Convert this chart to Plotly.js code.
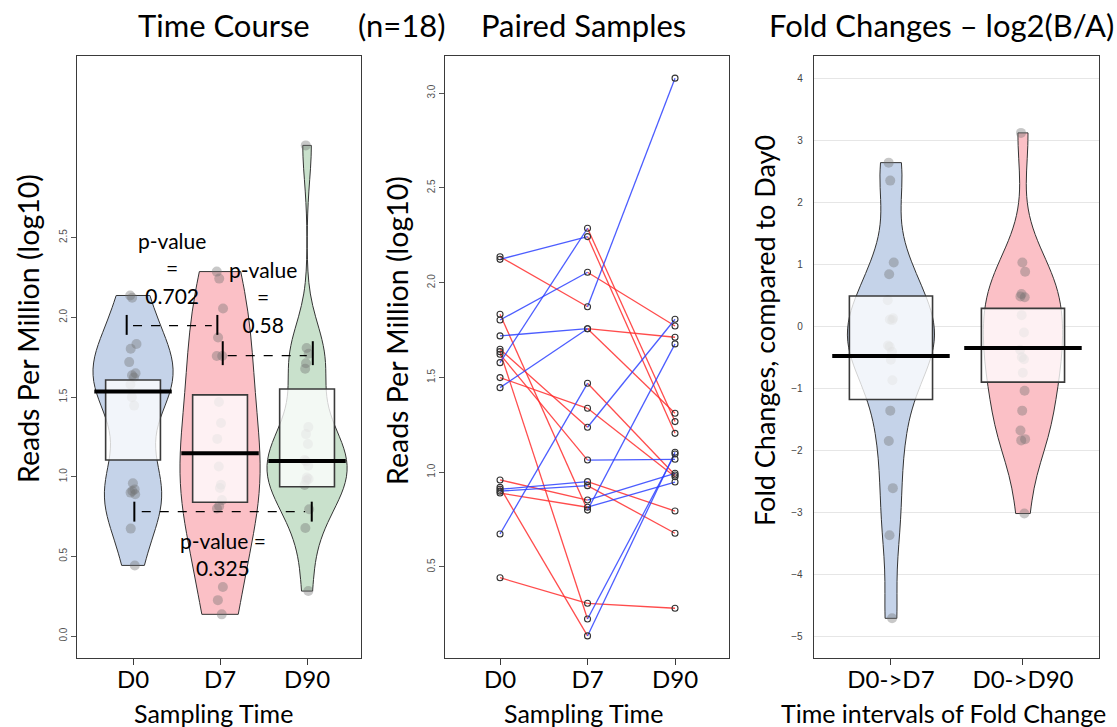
<!DOCTYPE html>
<html>
<head>
<meta charset="utf-8">
<script src="https://cdn.plot.ly/plotly-3.0.1.min.js"></script>
<style>html,body{margin:0;padding:0;background:#fff}#chart{width:1117px;height:727px}</style>
</head>
<body>
<div id="chart"></div>
<script>
// ---------- data ----------
const timepoints = ['D0', 'D7', 'D90'];
const intervals = ['D0->D7', 'D0->D90'];

// log10 reads per million, one entry per subject (n = 18), same order in each array
const rpmD0  = [2.137, 1.578, 2.123, 1.803, 1.719, 1.446, 0.674, 1.499, 1.649, 1.622, 1.636, 0.920, 0.443, 1.833, 0.959, 0.910, 0.900, 0.890];
const rpmD7  = [1.873, 2.287, 2.243, 2.055, 1.757, 1.757, 1.469, 1.337, 1.237, 1.064, 0.225, 0.136, 0.308, 0.800, 0.853, 0.950, 0.929, 0.815];
const rpmD90 = [3.079, 1.267, 1.205, 1.771, 1.311, 1.712, 0.985, 0.976, 1.807, 1.068, 1.096, 1.105, 0.282, 1.677, 0.994, 0.795, 0.678, 0.948];

// summary marks of the time-course pirate plot
const centreLine1 = [1.534, 1.147, 1.098];
const bandLow1    = [1.105, 0.839, 0.937];
const bandHigh1   = [1.607, 1.513, 1.550];

// fold changes log2(B/A)
const foldD0D7  = [2.64, 2.35, 1.03, 0.84, 0.42, 0.13, 0.11, 0.10, -0.31, -0.33, -0.41, -0.54, -0.87, -1.36, -1.85, -2.61, -3.37, -4.71];
const foldD0D90 = [3.12, 1.03, 0.88, 0.52, 0.48, 0.47, 0.18, -0.10, -0.38, -0.50, -0.53, -0.75, -1.04, -1.36, -1.68, -1.82, -1.84, -3.02];

const centreLine3 = [-0.48, -0.35];
const bandLow3    = [-1.18, -0.90];
const bandHigh3   = [0.49, 0.29];

const pLabels = ['p-value<br>=<br>0.702', 'p-value<br>=<br>0.58', 'p-value =<br>0.325'];

// ---------- styles ----------
const FONT = 'Lato, "Open Sans", sans-serif';
const beanFill1 = ['#c5d3e9', '#fbc0c6', '#c9e1cc'];
const beanFill3 = ['#c5d3e9', '#fbc0c6'];
const bw1 = [0.24, 0.40, 0.22];
const bw3 = [0.60, 0.62];
const beanWidth3 = [0.66, 0.60];
const upColor = 'rgba(45,65,255,0.85)';
const downColor = 'rgba(255,45,45,0.85)';
const pointMarker = {color: 'rgba(110,110,110,0.38)', size: 10, line: {width: 0}};

const traces = [];
const groups1 = [rpmD0, rpmD7, rpmD90];
groups1.forEach((vals, i) => {
  traces.push({
    type: 'violin', xaxis: 'x', yaxis: 'y',
    x: vals.map(() => timepoints[i]), y: vals,
    fillcolor: beanFill1[i], line: {color: '#333', width: 1},
    points: 'all', pointpos: 0, jitter: 0.1, marker: pointMarker,
    spanmode: 'hard', bandwidth: bw1[i], width: 0.92, scalemode: 'width',
    box: {visible: false}, meanline: {visible: false}, hoverinfo: 'y', showlegend: false
  });
});

// paired lines
const series = [rpmD0, rpmD7, rpmD90];
const up = {x: [], y: []}, down = {x: [], y: []};
for (let s = 0; s < rpmD0.length; s++) {
  for (let k = 0; k < 2; k++) {
    const a = series[k][s], b = series[k + 1][s];
    const t = b >= a ? up : down;
    t.x.push(timepoints[k], timepoints[k + 1], null);
    t.y.push(a, b, null);
  }
}
traces.push({type: 'scatter', mode: 'lines', xaxis: 'x2', yaxis: 'y2', x: down.x, y: down.y,
  line: {color: downColor, width: 1.3}, hoverinfo: 'skip', showlegend: false});
traces.push({type: 'scatter', mode: 'lines', xaxis: 'x2', yaxis: 'y2', x: up.x, y: up.y,
  line: {color: upColor, width: 1.3}, hoverinfo: 'skip', showlegend: false});
const px = [], py = [];
series.forEach((vals, k) => vals.forEach(v => { px.push(timepoints[k]); py.push(v); }));
traces.push({type: 'scatter', mode: 'markers', xaxis: 'x2', yaxis: 'y2', x: px, y: py,
  marker: {symbol: 'circle-open', size: 6, color: '#333', line: {width: 1.1}}, showlegend: false});

const groups3 = [foldD0D7, foldD0D90];
groups3.forEach((vals, i) => {
  traces.push({
    type: 'violin', xaxis: 'x3', yaxis: 'y3',
    x: vals.map(() => intervals[i]), y: vals,
    fillcolor: beanFill3[i], line: {color: '#333', width: 1},
    points: 'all', pointpos: 0, jitter: 0.1, marker: pointMarker,
    spanmode: 'hard', bandwidth: bw3[i], width: beanWidth3[i], scalemode: 'width',
    box: {visible: false}, meanline: {visible: false}, hoverinfo: 'y', showlegend: false
  });
});

// ---------- shapes ----------
const shapes = [];
function addBands(xref, yref, lows, highs, centres) {
  lows.forEach((lo, i) => {
    shapes.push({type: 'rect', xref, yref, layer: 'above', x0: i - 0.315, x1: i + 0.315, y0: lo, y1: highs[i],
      fillcolor: 'rgba(255,255,255,0.78)', line: {color: '#3a3a3a', width: 1.6}});
    shapes.push({type: 'line', xref, yref, layer: 'above', x0: i - 0.445, x1: i + 0.445, y0: centres[i], y1: centres[i],
      line: {color: '#000', width: 4}});
  });
}
addBands('x', 'y', bandLow1, bandHigh1, centreLine1);
addBands('x3', 'y3', bandLow3, bandHigh3, centreLine3);

// comparison brackets (annotation graphics)
function bracket(xl, xa, xb, xr, yMid, yLo, yHi) {
  shapes.push({type: 'line', xref: 'x', yref: 'y', layer: 'above', x0: xa, x1: xb, y0: yMid, y1: yMid,
    line: {color: '#000', width: 1.2, dash: 'dash'}});
  shapes.push({type: 'line', xref: 'x', yref: 'y', layer: 'above', x0: xl, x1: xl, y0: yLo, y1: yHi,
    line: {color: '#000', width: 2}});
  shapes.push({type: 'line', xref: 'x', yref: 'y', layer: 'above', x0: xr, x1: xr, y0: yLo, y1: yHi,
    line: {color: '#000', width: 2}});
}
bracket(-0.073, 0.0, 0.905, 0.969, 1.948, 1.89, 2.015);
bracket(1.031, 1.088, 1.997, 2.066, 1.760, 1.70, 1.85);
bracket(0.015, 0.10, 1.977, 2.054, 0.780, 0.718, 0.843);

// ---------- annotations ----------
const W = 1117, H = 727;
const annotations = [
  {text: 'Time Course', x: 224 / W, y: 1 - 25 / H},
  {text: '(n=18)', x: 402 / W, y: 1 - 25 / H},
  {text: 'Paired Samples', x: 583 / W, y: 1 - 25 / H},
  {text: 'Fold Changes \u2013 log2(B/A)', x: 941 / W, y: 1 - 25 / H}
].map(a => Object.assign({xref: 'paper', yref: 'paper', xanchor: 'center', yanchor: 'middle', showarrow: false,
  font: {family: FONT, size: 31, color: '#000'}}, a));
// axis titles
[
  {text: 'Reads Per Million (log10)', x: 28 / W, y: 1 - 329 / H, size: 28.5, angle: -90},
  {text: 'Reads Per Million (log10)', x: 397 / W, y: 1 - 331 / H, size: 28.5, angle: -90},
  {text: 'Fold Changes, compared to Day0', x: 764 / W, y: 1 - 331 / H, size: 27, angle: -90},
  {text: 'Sampling Time', x: 213 / W, y: 1 - 713 / H, size: 25, angle: 0},
  {text: 'Sampling Time', x: 583 / W, y: 1 - 713 / H, size: 25, angle: 0},
  {text: 'Time intervals of Fold Change', x: 943 / W, y: 1 - 713 / H, size: 25, angle: 0}
].forEach(a => annotations.push({xref: 'paper', yref: 'paper', x: a.x, y: a.y, text: a.text, textangle: a.angle,
  showarrow: false, xanchor: 'center', yanchor: 'middle', font: {family: FONT, size: a.size, color: '#000'}}));
const pPos = [[0.448, 2.31], [1.494, 2.128], [1.034, 0.515]];
pLabels.forEach((t, i) => annotations.push({xref: 'x', yref: 'y', x: pPos[i][0], y: pPos[i][1], text: t,
  showarrow: false, xanchor: 'center', yanchor: 'middle', font: {family: FONT, size: 21, color: '#000'}}));

// ---------- axes ----------
const yDom = [(H - 658) / H, (H - 56) / H];
const frame = {showline: true, mirror: true, linecolor: '#3a3a3a', linewidth: 1.3, zeroline: false, showgrid: false, fixedrange: true};
const xCommon = Object.assign({}, frame, {type: 'category', ticks: 'outside', ticklen: 6, tickcolor: '#3a3a3a',
  ticklabelstandoff: -6, tickfont: {family: FONT, size: 24, color: '#000'}});
const yCommon = Object.assign({}, frame, {ticks: 'outside', ticklen: 5, tickcolor: '#555', tickangle: -90,
  tickfont: {family: 'Liberation Sans, Arial, sans-serif', size: 10, color: '#555'}});

const layout = {
  width: W, height: H, margin: {l: 0, r: 0, t: 0, b: 0}, paper_bgcolor: '#fff', plot_bgcolor: '#fff',
  showlegend: false, violinmode: 'overlay', violingap: 0, hovermode: false,
  font: {family: FONT},
  xaxis: Object.assign({}, xCommon, {domain: [77 / W, 361 / W], anchor: 'y', range: [-0.644, 2.62],
    categoryorder: 'array', categoryarray: timepoints}),
  yaxis: Object.assign({}, yCommon, {domain: yDom, anchor: 'x', range: [-0.138, 3.64],
    tickvals: [0, 0.5, 1, 1.5, 2, 2.5], ticktext: ['0.0', '0.5', '1.0', '1.5', '2.0', '2.5']}),
  xaxis2: Object.assign({}, xCommon, {domain: [445 / W, 729 / W], anchor: 'y2', range: [-0.629, 2.617],
    categoryorder: 'array', categoryarray: timepoints}),
  yaxis2: Object.assign({}, yCommon, {domain: yDom, anchor: 'x2', range: [0.0195, 3.196],
    tickvals: [0.5, 1, 1.5, 2, 2.5, 3], ticktext: ['0.5', '1.0', '1.5', '2.0', '2.5', '3.0']}),
  xaxis3: Object.assign({}, xCommon, {domain: [814 / W, 1099 / W], anchor: 'y3', range: [-0.583, 1.576],
    categoryorder: 'array', categoryarray: intervals}),
  yaxis3: Object.assign({}, yCommon, {domain: yDom, anchor: 'x3', range: [-5.35, 4.36], tickangle: 0,
    tickvals: [-5, -4, -3, -2, -1, 0, 1, 2, 3, 4], ticklen: 8, tickcolor: 'rgba(0,0,0,0)',
    showgrid: true, gridcolor: '#e6e6e6', gridwidth: 1,
    tickfont: {family: 'Liberation Sans, Arial, sans-serif', size: 10, color: '#444'}}),
  shapes, annotations
};

Plotly.newPlot('chart', traces, layout, {staticPlot: true, displayModeBar: false});
</script>
</body>
</html>
